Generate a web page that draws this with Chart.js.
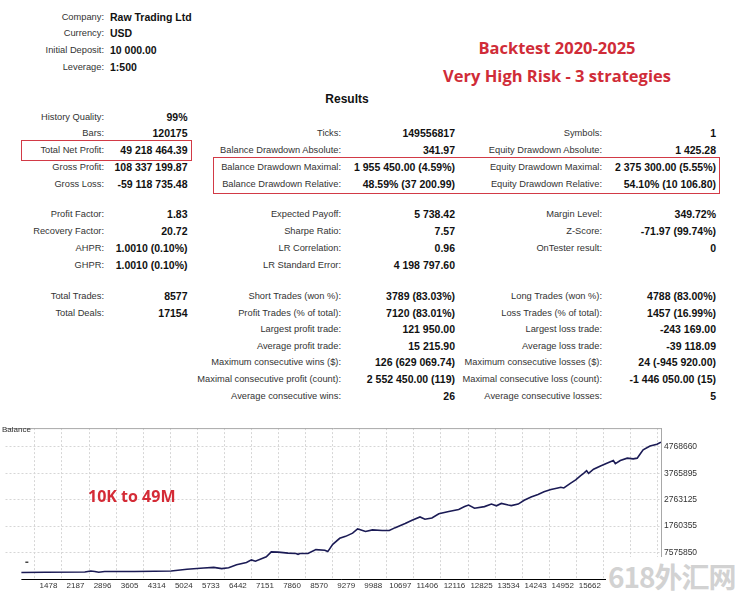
<!DOCTYPE html>
<html lang="en">
<head>
  <meta charset="utf-8">
  <title>Backtest 2020-2025</title>
  <style>
    body { margin: 0; width: 735px; height: 595px; position: relative; overflow: hidden; background: #fff;
           font-family: "Liberation Sans", Arial, sans-serif; }
    .t { position: absolute; white-space: nowrap; line-height: 14px; }
    .lab { font-size: 9.3px; color: #333; text-align: right; }
    .val { font-size: 10.5px; font-weight: bold; color: #111; text-align: right; }
    .hval { font-size: 10.5px; font-weight: bold; color: #111; }
    .title { position: absolute; width: 300px; left: 407px; text-align: center; white-space: nowrap;
             font-family: "Open Sans", sans-serif; font-weight: 700; font-size: 16.5px; color: #d02c38; line-height: 22px; }
    .box { position: absolute; border: 1.5px solid #d23a46; box-sizing: border-box; }
    #chartWrap { position: absolute; left: 0; top: 420px; width: 735px; height: 175px; }
    .over { position: absolute; white-space: nowrap; }
  </style>
</head>
<body>
  <div class="title" style="top:37px">Backtest 2020-2025</div>
  <div class="title" style="top:65px">Very High Risk - 3 strategies</div>
  <div class="t" style="left:0;width:694px;text-align:center;top:92px;font-size:12px;font-weight:bold;color:#111">Results</div>

  <div class="box" style="left:21px;top:140px;width:171px;height:21px"></div>
  <div class="box" style="left:213px;top:157px;width:507px;height:37px"></div>

  <div id="chartWrap">
    <canvas id="balanceChart" width="735" height="175"></canvas>
  </div>
  <div class="over" style="left:2px;top:425px;font-size:8px;color:#333">Balance</div>
  <div class="over" style="left:88px;top:485px;font-family:'Open Sans',sans-serif;font-weight:700;font-size:16px;color:#d42b36">10K to 49M</div>
  <div class="over" style="left:606px;top:557px;width:129px;height:38px;background:#fff;overflow:hidden">
    <div style="font-family:'Noto Sans CJK SC',sans-serif;font-weight:700;font-size:28px;letter-spacing:-1px;color:#d2d2d2;line-height:38px;margin-left:2px">618外汇网</div>
  </div>

  <script src="https://cdn.jsdelivr.net/npm/chart.js"></script>
  <script>
    // balance curve (x = deal axis units, y = millions USD)
    const dealX = [769, 1393, 2432, 2588, 2692, 2795, 2951, 3731, 4250, 4692, 5107, 5549, 5809, 6017, 6199,
      6407, 6666, 6796, 6900, 7186, 7316, 7498, 7757, 7965, 8017, 8069, 8277, 8485, 8719, 8797, 8927,
      9109, 9265, 9447, 9577, 9629, 9785, 9967, 10226, 10408, 10564, 10824, 11005, 11213, 11343, 11525,
      11707, 11967, 12226, 12382, 12486, 12642, 12902, 13084, 13214, 13344, 13526, 13604, 13786, 13942,
      14123, 14305, 14461, 14643, 14825, 14903, 14981, 15162, 15292, 15422, 15500, 15578, 15630, 15760,
      15942, 16123, 16279, 16331, 16461, 16643, 16799, 16903, 16981, 17059, 17240, 17422, 17526];
    const balanceM = [0.01, 0.1, 0.2, 0.55, 0.4, 0.1, 0.35, 0.4, 0.47, 0.55, 1.21, 1.69, 1.95, 1.47, 1.83,
      2.94, 3.78, 4.78, 4.27, 5.99, 7.83, 7.72, 7.36, 7.21, 6.91, 7.21, 7.21, 8.68, 8.46, 7.94, 10.67,
      12.99, 13.72, 14.94, 16.55, 16.3, 15.56, 16.19, 15.93, 15.93, 17.03, 18.62, 19.87, 21.08, 20.24, 20.71,
      22.3, 23.18, 23.92, 25.02, 25.61, 24.39, 25.02, 25.98, 25.31, 26.23, 25.61, 25.39, 25.98, 27.45,
      28.7, 29.66, 30.65, 31.5, 32.12, 32.38, 32.12, 33.96, 35.18, 36.8, 37.64, 38.64, 37.64, 39.22,
      40.47, 41.58, 42.54, 41.32, 42.54, 43.42, 43.16, 43.42, 45.0, 46.58, 48.06, 48.68, 49.5];
    const depositMark = [873, 3.9];

    const xTickValues = [1478, 2187, 2896, 3605, 4314, 5024, 5733, 6442, 7151, 7860, 8570, 9279, 9988,
      10697, 11406, 12116, 12825, 13534, 14243, 14952, 15662, 16371, 17080];
    const yTickValues = [7.57585, 17.60355, 27.63125, 37.65895, 47.6866];
    const yTickLabels = ['7575850', '1760355', '2763125', '3765895', '4768660'];

    // report text: [y, label, value, label, value, label, value]
    const headerRows = [
      [17, 'Company:', 'Raw Trading Ltd'],
      [33, 'Currency:', 'USD'],
      [50, 'Initial Deposit:', '10 000.00'],
      [67, 'Leverage:', '1:500']
    ];
    const resultRows = [
      [117, 'History Quality:', '99%'],
      [133, 'Bars:', '120175', 'Ticks:', '149556817', 'Symbols:', '1'],
      [150, 'Total Net Profit:', '49 218 464.39', 'Balance Drawdown Absolute:', '341.97', 'Equity Drawdown Absolute:', '1 425.28'],
      [167, 'Gross Profit:', '108 337 199.87', 'Balance Drawdown Maximal:', '1 955 450.00 (4.59%)', 'Equity Drawdown Maximal:', '2 375 300.00 (5.55%)'],
      [184, 'Gross Loss:', '-59 118 735.48', 'Balance Drawdown Relative:', '48.59% (37 200.99)', 'Equity Drawdown Relative:', '54.10% (10 106.80)'],
      [214, 'Profit Factor:', '1.83', 'Expected Payoff:', '5 738.42', 'Margin Level:', '349.72%'],
      [231, 'Recovery Factor:', '20.72', 'Sharpe Ratio:', '7.57', 'Z-Score:', '-71.97 (99.74%)'],
      [248, 'AHPR:', '1.0010 (0.10%)', 'LR Correlation:', '0.96', 'OnTester result:', '0'],
      [265, 'GHPR:', '1.0010 (0.10%)', 'LR Standard Error:', '4 198 797.60'],
      [296, 'Total Trades:', '8577', 'Short Trades (won %):', '3789 (83.03%)', 'Long Trades (won %):', '4788 (83.00%)'],
      [313, 'Total Deals:', '17154', 'Profit Trades (% of total):', '7120 (83.01%)', 'Loss Trades (% of total):', '1457 (16.99%)'],
      [329, '', '', 'Largest profit trade:', '121 950.00', 'Largest loss trade:', '-243 169.00'],
      [346, '', '', 'Average profit trade:', '15 215.90', 'Average loss trade:', '-39 118.09'],
      [362, '', '', 'Maximum consecutive wins ($):', '126 (629 069.74)', 'Maximum consecutive losses ($):', '24 (-945 920.00)'],
      [379, '', '', 'Maximal consecutive profit (count):', '2 552 450.00 (119)', 'Maximal consecutive loss (count):', '-1 446 050.00 (15)'],
      [396, '', '', 'Average consecutive wins:', '26', 'Average consecutive losses:', '5']
    ];
    const labelEdges = [104, 341, 602];
    const valueEdges = [187.5, 455, 716];

    function addText(cls, text, y, right, left) {
      if (!text) return;
      const d = document.createElement('div');
      d.className = 't ' + cls;
      d.textContent = text;
      d.style.top = (y - 7) + 'px';
      if (left !== undefined) d.style.left = left + 'px';
      else d.style.right = (735 - right) + 'px';
      document.body.appendChild(d);
    }
    headerRows.forEach(r => {
      addText('lab', r[1], r[0], 104);
      addText('hval', r[2], r[0], null, 110);
    });
    resultRows.forEach(r => {
      for (let c = 0; c < 3; c++) {
        addText('lab', r[1 + c * 2], r[0], labelEdges[c]);
        addText('val', r[2 + c * 2], r[0], valueEdges[c]);
      }
    });

    const frame = {
      id: 'frame',
      afterDraw(c) {
        const { ctx, chartArea: a, scales: { x } } = c;
        ctx.save();
        ctx.lineWidth = 1;
        ctx.strokeStyle = '#a8a8a8';
        ctx.beginPath();
        ctx.moveTo(a.left, a.top + 0.5);
        ctx.lineTo(a.right, a.top + 0.5);
        ctx.stroke();
        ctx.strokeStyle = '#000';
        ctx.beginPath();
        ctx.moveTo(x.getPixelForValue(dealX[0]), a.bottom + 0.5);
        ctx.lineTo(a.right, a.bottom + 0.5);
        ctx.stroke();
        ctx.restore();
      }
    };

    const tickFont = { family: "'Liberation Sans', Arial, sans-serif", size: 8 };
    new Chart(document.getElementById('balanceChart'), {
      type: 'line',
      data: {
        datasets: [
          {
            data: dealX.map((x, i) => ({ x: x, y: balanceM[i] })),
            borderColor: '#1b1b55',
            borderWidth: 1.6,
            pointRadius: 0,
            tension: 0
          },
          {
            data: [{ x: depositMark[0], y: depositMark[1] }],
            showLine: false,
            pointStyle: 'dash',
            pointRadius: 3,
            borderColor: '#444',
            borderWidth: 1.5
          }
        ]
      },
      options: {
        responsive: false,
        animation: false,
        events: [],
        layout: { padding: { top: 3, left: 0, right: 0, bottom: 0 } },
        plugins: { legend: { display: false }, tooltip: { enabled: false } },
        scales: {
          x: {
            type: 'linear',
            min: 353,
            max: 17527,
            afterBuildTicks: s => { s.ticks = xTickValues.map(v => ({ value: v })); },
            afterFit: s => { s.height = 16; },
            ticks: {
              autoSkip: false,
              maxRotation: 0,
              padding: 2,
              color: '#333',
              font: tickFont,
              callback: (v, i) => String(xTickValues[i])
            },
            grid: { offset: true, color: '#d6d6d6', drawTicks: false },
            border: { display: false, dash: [2, 2] }
          },
          y: {
            position: 'right',
            min: -2.47,
            max: 54.83,
            afterBuildTicks: s => { s.ticks = yTickValues.map(v => ({ value: v })); },
            afterFit: s => { s.width = 74; },
            ticks: {
              padding: 3,
              color: '#333',
              font: { family: tickFont.family, size: 8.5 },
              callback: (v, i) => yTickLabels[i]
            },
            grid: { color: '#d6d6d6', drawTicks: false },
            border: { color: '#a8a8a8', dash: [2, 2] }
          }
        }
      },
      plugins: [frame]
    });
  </script>
</body>
</html>
